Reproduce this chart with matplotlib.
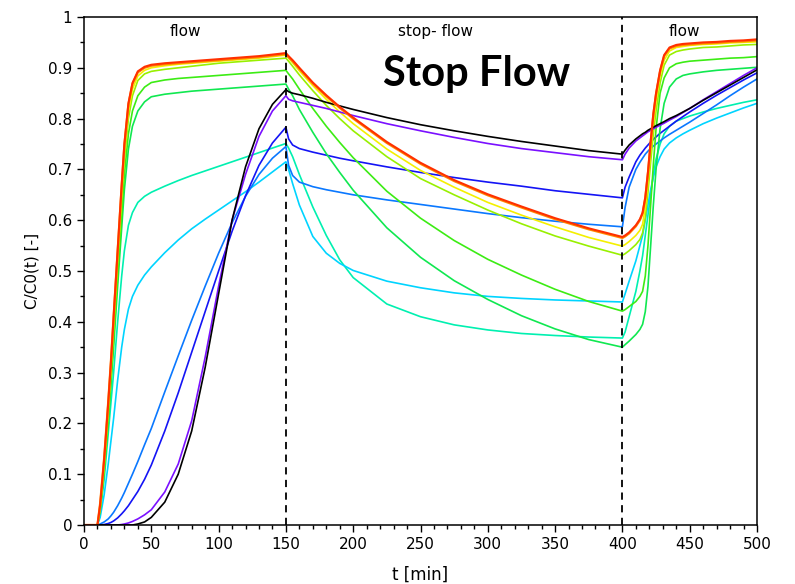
import matplotlib
matplotlib.use("Agg")
import matplotlib.pyplot as plt
from matplotlib.ticker import MultipleLocator, FuncFormatter

# time grid [min]
t = [0, 10, 12, 15, 18, 20, 22, 25, 28, 30, 33, 36, 40, 45, 50, 60, 70, 80, 90, 100,
     110, 120, 130, 140, 150,
     152, 155, 160, 170, 180, 190, 200, 225, 250, 275, 300, 325, 350, 375, 400,
     402, 405, 410, 413, 415, 417, 419, 421, 423, 425, 428, 431, 435, 440, 445, 450,
     460, 470, 480, 490, 500]

black = [0, 0, 0, 0, 0, 0, 0, 0, 0, 0, 0, 0, 0.002, 0.006, 0.015, 0.045, 0.1, 0.185, 0.31, 0.455,
         0.6, 0.705, 0.78, 0.828, 0.857,
         0.853, 0.85, 0.847, 0.84, 0.832, 0.825, 0.818, 0.802, 0.788, 0.776, 0.765, 0.755, 0.746, 0.737, 0.73,
         0.738, 0.748, 0.76, 0.766, 0.77, 0.773, 0.777, 0.78, 0.783, 0.786, 0.79, 0.794, 0.8, 0.806, 0.813, 0.82,
         0.836, 0.851, 0.866, 0.881, 0.896]
violet = [0, 0, 0, 0, 0, 0, 0, 0, 0.001, 0.002, 0.004, 0.007, 0.012, 0.02, 0.03, 0.065, 0.12, 0.205, 0.33, 0.47,
          0.6, 0.69, 0.765, 0.815, 0.845,
          0.838, 0.835, 0.832, 0.826, 0.82, 0.813, 0.806, 0.79, 0.776, 0.763, 0.751, 0.741, 0.733, 0.725, 0.719,
          0.73, 0.742, 0.756, 0.762, 0.766, 0.77, 0.774, 0.777, 0.78, 0.783, 0.787, 0.791, 0.797, 0.804, 0.812, 0.82,
          0.837, 0.853, 0.869, 0.885, 0.9]
blue = [0, 0, 0, 0.001, 0.003, 0.005, 0.008, 0.014, 0.022, 0.028, 0.038, 0.05, 0.066, 0.09, 0.118, 0.185, 0.26, 0.34, 0.42, 0.5,
        0.578, 0.648, 0.708, 0.752, 0.783,
        0.76, 0.748, 0.741, 0.734, 0.728, 0.722, 0.717, 0.705, 0.694, 0.684, 0.675, 0.667, 0.658, 0.651, 0.644,
        0.665, 0.685, 0.715, 0.728, 0.735, 0.742, 0.748, 0.754, 0.759, 0.764, 0.771, 0.777, 0.785, 0.795, 0.804, 0.813,
        0.83, 0.846, 0.861, 0.876, 0.89]
dodger = [0, 0, 0.002, 0.006, 0.012, 0.018, 0.025, 0.038, 0.053, 0.064, 0.082, 0.1, 0.125, 0.158, 0.19, 0.262, 0.333, 0.403, 0.47, 0.535,
          0.595, 0.647, 0.69, 0.722, 0.745,
          0.708, 0.688, 0.675, 0.666, 0.66, 0.655, 0.65, 0.64, 0.631, 0.622, 0.613, 0.605, 0.598, 0.592, 0.587,
          0.625, 0.665, 0.7, 0.714, 0.722, 0.73, 0.736, 0.741, 0.746, 0.75, 0.756, 0.762, 0.769, 0.777, 0.785, 0.793,
          0.81, 0.827, 0.845, 0.862, 0.878]
cyan = [0, 0, 0.015, 0.06, 0.12, 0.165, 0.21, 0.285, 0.35, 0.385, 0.425, 0.45, 0.472, 0.492, 0.508, 0.536, 0.561, 0.583, 0.602, 0.62,
        0.638, 0.656, 0.675, 0.695, 0.715,
        0.70, 0.672, 0.63, 0.568, 0.535, 0.515, 0.501, 0.48, 0.467, 0.457, 0.45, 0.446, 0.443, 0.441, 0.439,
        0.455, 0.48, 0.52, 0.55, 0.57, 0.6, 0.63, 0.66, 0.685, 0.705, 0.725, 0.74, 0.752, 0.762, 0.77, 0.777,
        0.79, 0.801, 0.811, 0.821, 0.83]
aqua = [0, 0, 0.025, 0.09, 0.18, 0.24, 0.3, 0.4, 0.49, 0.54, 0.59, 0.615, 0.635, 0.647, 0.655, 0.667, 0.678, 0.688, 0.697, 0.706,
        0.715, 0.724, 0.733, 0.742, 0.751,
        0.742, 0.725, 0.69, 0.626, 0.57, 0.522, 0.487, 0.435, 0.41, 0.394, 0.384, 0.377, 0.373, 0.37, 0.368,
        0.38, 0.41, 0.46, 0.5, 0.53, 0.57, 0.61, 0.65, 0.69, 0.72, 0.75, 0.77, 0.785, 0.795, 0.8, 0.805,
        0.813, 0.82, 0.826, 0.832, 0.837]
spring = [0, 0, 0.028, 0.105, 0.2, 0.275, 0.35, 0.47, 0.585, 0.66, 0.74, 0.785, 0.815, 0.833, 0.843, 0.848, 0.851, 0.854, 0.856, 0.858,
          0.86, 0.862, 0.864, 0.866, 0.868,
          0.858, 0.845, 0.818, 0.773, 0.731, 0.694, 0.659, 0.585, 0.527, 0.481, 0.444, 0.412, 0.386, 0.365, 0.35,
          0.355, 0.362, 0.375, 0.385, 0.395, 0.42, 0.47, 0.55, 0.63, 0.7, 0.78, 0.83, 0.862, 0.878, 0.885, 0.888,
          0.892, 0.895, 0.897, 0.899, 0.901]
lime = [0, 0, 0.03, 0.11, 0.21, 0.285, 0.365, 0.49, 0.61, 0.69, 0.77, 0.815, 0.845, 0.862, 0.871, 0.876, 0.879, 0.881, 0.883, 0.885,
        0.887, 0.889, 0.891, 0.893, 0.895,
        0.888, 0.878, 0.858, 0.82, 0.785, 0.753, 0.723, 0.657, 0.604, 0.56, 0.523, 0.492, 0.464, 0.44, 0.421,
        0.424, 0.43, 0.44, 0.45, 0.46, 0.49, 0.55, 0.63, 0.71, 0.78, 0.85, 0.88, 0.9, 0.908, 0.911, 0.913,
        0.915, 0.917, 0.919, 0.92, 0.922]
chartreuse = [0, 0, 0.03, 0.115, 0.22, 0.3, 0.385, 0.515, 0.64, 0.72, 0.8, 0.845, 0.875, 0.888, 0.893, 0.897, 0.9, 0.903, 0.906, 0.909,
              0.911, 0.913, 0.915, 0.917, 0.919,
              0.913, 0.903, 0.886, 0.855, 0.826, 0.8, 0.776, 0.725, 0.682, 0.65, 0.62, 0.593, 0.569, 0.549, 0.531,
              0.534, 0.54, 0.552, 0.562, 0.575, 0.605, 0.655, 0.715, 0.77, 0.815, 0.87, 0.905, 0.925, 0.932, 0.935, 0.937,
              0.94, 0.941, 0.943, 0.945, 0.946]
yellow = [0, 0, 0.035, 0.12, 0.23, 0.31, 0.395, 0.525, 0.655, 0.735, 0.815, 0.858, 0.884, 0.895, 0.9, 0.904, 0.907, 0.909, 0.911, 0.913,
          0.915, 0.917, 0.919, 0.922, 0.925,
          0.919, 0.91, 0.894, 0.865, 0.838, 0.813, 0.79, 0.74, 0.698, 0.665, 0.635, 0.61, 0.587, 0.566, 0.549,
          0.552, 0.558, 0.57, 0.58, 0.592, 0.625, 0.675, 0.735, 0.79, 0.835, 0.885, 0.915, 0.933, 0.94, 0.942, 0.944,
          0.946, 0.947, 0.949, 0.95, 0.951]
orange = [0, 0, 0.043, 0.133, 0.243, 0.323, 0.41, 0.54, 0.668, 0.748, 0.828, 0.868, 0.891, 0.9, 0.904, 0.907, 0.909, 0.911, 0.913, 0.915,
          0.917, 0.919, 0.921, 0.924, 0.927,
          0.921, 0.913, 0.898, 0.869, 0.844, 0.821, 0.8, 0.752, 0.711, 0.677, 0.649, 0.625, 0.602, 0.582, 0.565,
          0.568, 0.574, 0.588, 0.6, 0.613, 0.643, 0.693, 0.753, 0.808, 0.848, 0.893, 0.923, 0.938, 0.943, 0.945, 0.946,
          0.948, 0.949, 0.951, 0.952, 0.954]
red = [0, 0, 0.04, 0.13, 0.24, 0.32, 0.41, 0.54, 0.67, 0.75, 0.83, 0.87, 0.893, 0.902, 0.906, 0.909, 0.911, 0.913, 0.915, 0.917,
       0.919, 0.921, 0.923, 0.926, 0.929,
       0.923, 0.915, 0.9, 0.871, 0.846, 0.823, 0.802, 0.754, 0.713, 0.679, 0.651, 0.627, 0.604, 0.584, 0.567,
       0.57, 0.576, 0.59, 0.602, 0.615, 0.645, 0.695, 0.755, 0.81, 0.85, 0.895, 0.925, 0.94, 0.945, 0.947, 0.948,
       0.95, 0.951, 0.953, 0.954, 0.956]

series = [
    (aqua, "#00f0b0", 1.2), (cyan, "#00d4ff", 1.2), (dodger, "#0a78ff", 1.2), (blue, "#1414f5", 1.2),
    (spring, "#10e850", 1.2), (lime, "#3cec14", 1.2), (chartreuse, "#98f000", 1.2), (yellow, "#f4f000", 1.2),
    (violet, "#7a10ff", 1.2), (black, "#000000", 1.2), (orange, "#ff8a00", 1.6), (red, "#ff3000", 1.5),
]

phase_bounds = [150, 400]
phase_labels = ["flow", "stop- flow", "flow"]
phase_label_x = [75, 261, 446]

fig = plt.figure(figsize=(7.95, 5.84), dpi=100)
ax = fig.add_axes([84 / 795, 59 / 584, (757 - 84) / 795, (525 - 17) / 584])

for vals, col, lw in series:
    ax.plot(t, vals, color=col, lw=lw, solid_joinstyle="round")

for xb in phase_bounds:
    ax.axvline(xb, color="black", lw=1.3, ls=(0, (4, 3)), zorder=5)

for lab, xl in zip(phase_labels, phase_label_x):
    ax.text(xl, 0.972, lab, ha="center", va="center", fontsize=11, family="DejaVu Sans")

ax.text(292, 0.888, "Stop Flow", ha="center", va="center", fontsize=30,
        fontweight="bold", family="Lato")

ax.set_xlim(0, 500)
ax.set_ylim(0, 1)
ax.xaxis.set_major_locator(MultipleLocator(50))
ax.xaxis.set_minor_locator(MultipleLocator(10))
ax.yaxis.set_major_locator(MultipleLocator(0.1))
ax.yaxis.set_minor_locator(MultipleLocator(0.05))
ax.yaxis.set_major_formatter(FuncFormatter(lambda v, p: "%g" % round(v, 2)))
ax.tick_params(which="major", direction="out", length=5, width=1, labelsize=11)
ax.tick_params(which="minor", direction="out", length=3, width=1)
for s in ax.spines.values():
    s.set_linewidth(1.1)

fig.text((84 + 757) / 2 / 795, 9 / 584, "t [min]", ha="center", va="center", fontsize=12)
fig.text(32 / 795, (584 - 271) / 584, "C/C0(t) [-]", ha="center", va="center",
         rotation=90, fontsize=11)

fig.savefig("out.png", dpi=100)
